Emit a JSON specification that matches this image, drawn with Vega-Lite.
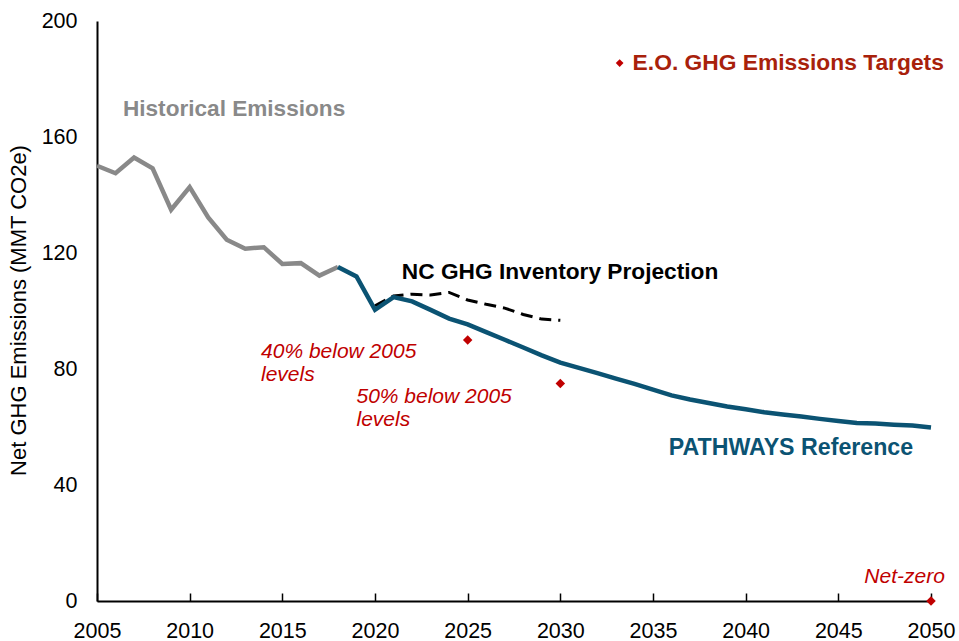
{
  "$schema": "https://vega.github.io/schema/vega-lite/v6.json",
  "autosize": "none",
  "width": 834,
  "height": 580,
  "padding": {"left": 97, "top": 21, "right": 28, "bottom": 40},
  "background": "white",
  "config": {
    "view": {"stroke": null},
    "font": "Liberation Sans",
    "axis": {"grid": false, "domainColor": "black", "domainWidth": 2, "labelFont": "Liberation Sans", "labelFontSize": 21.5, "labelColor": "#000", "titleFont": "Liberation Sans"}
  },
  "datasets": {
    "series": [
      {"year": 2005, "value": 150.1, "series": "Historical"},
      {"year": 2006, "value": 147.5, "series": "Historical"},
      {"year": 2007, "value": 152.9, "series": "Historical"},
      {"year": 2008, "value": 149.2, "series": "Historical"},
      {"year": 2009, "value": 134.9, "series": "Historical"},
      {"year": 2010, "value": 142.7, "series": "Historical"},
      {"year": 2011, "value": 132.3, "series": "Historical"},
      {"year": 2012, "value": 124.6, "series": "Historical"},
      {"year": 2013, "value": 121.5, "series": "Historical"},
      {"year": 2014, "value": 122.0, "series": "Historical"},
      {"year": 2015, "value": 116.2, "series": "Historical"},
      {"year": 2016, "value": 116.5, "series": "Historical"},
      {"year": 2017, "value": 112.2, "series": "Historical"},
      {"year": 2018, "value": 115.2, "series": "Historical"},
      {"year": 2018, "value": 115.2, "series": "PATHWAYS"},
      {"year": 2019, "value": 111.9, "series": "PATHWAYS"},
      {"year": 2020, "value": 100.4, "series": "PATHWAYS"},
      {"year": 2021, "value": 104.8, "series": "PATHWAYS"},
      {"year": 2022, "value": 103.3, "series": "PATHWAYS"},
      {"year": 2023, "value": 100.4, "series": "PATHWAYS"},
      {"year": 2024, "value": 97.4, "series": "PATHWAYS"},
      {"year": 2025, "value": 95.4, "series": "PATHWAYS"},
      {"year": 2026, "value": 92.7, "series": "PATHWAYS"},
      {"year": 2027, "value": 90.1, "series": "PATHWAYS"},
      {"year": 2028, "value": 87.4, "series": "PATHWAYS"},
      {"year": 2029, "value": 84.7, "series": "PATHWAYS"},
      {"year": 2030, "value": 82.2, "series": "PATHWAYS"},
      {"year": 2031, "value": 80.4, "series": "PATHWAYS"},
      {"year": 2032, "value": 78.6, "series": "PATHWAYS"},
      {"year": 2033, "value": 76.7, "series": "PATHWAYS"},
      {"year": 2034, "value": 74.9, "series": "PATHWAYS"},
      {"year": 2035, "value": 72.9, "series": "PATHWAYS"},
      {"year": 2036, "value": 70.9, "series": "PATHWAYS"},
      {"year": 2037, "value": 69.5, "series": "PATHWAYS"},
      {"year": 2038, "value": 68.3, "series": "PATHWAYS"},
      {"year": 2039, "value": 67.1, "series": "PATHWAYS"},
      {"year": 2040, "value": 66.1, "series": "PATHWAYS"},
      {"year": 2041, "value": 65.1, "series": "PATHWAYS"},
      {"year": 2042, "value": 64.3, "series": "PATHWAYS"},
      {"year": 2043, "value": 63.6, "series": "PATHWAYS"},
      {"year": 2044, "value": 62.8, "series": "PATHWAYS"},
      {"year": 2045, "value": 62.1, "series": "PATHWAYS"},
      {"year": 2046, "value": 61.4, "series": "PATHWAYS"},
      {"year": 2047, "value": 61.2, "series": "PATHWAYS"},
      {"year": 2048, "value": 60.8, "series": "PATHWAYS"},
      {"year": 2049, "value": 60.5, "series": "PATHWAYS"},
      {"year": 2050, "value": 59.8, "series": "PATHWAYS"},
      {"year": 2020, "value": 101.8, "series": "NC"},
      {"year": 2021, "value": 105.2, "series": "NC"},
      {"year": 2022, "value": 105.8, "series": "NC"},
      {"year": 2023, "value": 105.5, "series": "NC"},
      {"year": 2024, "value": 106.4, "series": "NC"},
      {"year": 2025, "value": 103.8, "series": "NC"},
      {"year": 2026, "value": 102.3, "series": "NC"},
      {"year": 2027, "value": 101.0, "series": "NC"},
      {"year": 2028, "value": 98.8, "series": "NC"},
      {"year": 2029, "value": 97.2, "series": "NC"},
      {"year": 2030, "value": 96.8, "series": "NC"}
    ],
    "targets": [
      {"year": 2025, "value": 90},
      {"year": 2030, "value": 75},
      {"year": 2050, "value": 0}
    ],
    "labels": [
      {"year": 2006.4, "value": 169.7, "text": "Historical Emissions", "kind": "hist"},
      {"year": 2021.45, "value": 113.6, "text": "NC GHG Inventory Projection", "kind": "nc"},
      {"year": 2035.85, "value": 52.7, "text": "PATHWAYS Reference", "kind": "path"},
      {"year": 2033.9, "value": 185.5, "text": "E.O. GHG Emissions Targets", "kind": "legend"},
      {"year": 2013.85, "value": 85.7, "text": "40% below 2005\nlevels", "kind": "target"},
      {"year": 2019.0, "value": 70.2, "text": "50% below 2005\nlevels", "kind": "target"},
      {"year": 2050.75, "value": 8.3, "text": "Net-zero", "kind": "netzero"}
    ],
    "legend": [
      {"year": 2033.2, "value": 185.5}
    ]
  },
  "encoding": {
    "x": {"field": "year", "type": "quantitative", "scale": {"domain": [2005, 2050], "nice": false, "zero": false},
      "axis": {"values": [2005, 2010, 2015, 2020, 2025, 2030, 2035, 2040, 2045, 2050], "format": "d", "title": null, "tickSize": -8, "tickColor": "black", "tickWidth": 1.5, "labelPadding": 27, "labelFlush": false, "labelOverlap": false, "domainWidth": 2}},
    "y": {"field": "value", "type": "quantitative", "scale": {"domain": [0, 200], "nice": false},
      "axis": {"values": [0, 40, 80, 120, 160, 200], "ticks": false, "labelPadding": 20, "title": "Net GHG Emissions (MMT CO2e)", "titleFontSize": 22, "titleFontWeight": "normal", "titleColor": "#000", "titleX": -79, "titleY": 289, "titleAngle": -90, "titleBaseline": "middle", "titleAlign": "center"}}
  },
  "layer": [
    {"data": {"name": "series"}, "transform": [{"filter": "datum.series === 'Historical'"}],
      "mark": {"type": "line", "color": "#898989", "strokeWidth": 4.5, "strokeJoin": "miter", "clip": false}},
    {"data": {"name": "series"}, "transform": [{"filter": "datum.series === 'NC'"}],
      "mark": {"type": "line", "color": "#000000", "strokeWidth": 3, "strokeDash": [12, 7], "clip": false}},
    {"data": {"name": "series"}, "transform": [{"filter": "datum.series === 'PATHWAYS'"}],
      "mark": {"type": "line", "color": "#0B5373", "strokeWidth": 4.5, "strokeJoin": "miter", "clip": false}},
    {"data": {"name": "targets"},
      "mark": {"type": "point", "shape": "diamond", "filled": true, "color": "#C00000", "size": 90, "opacity": 1, "clip": false}},
    {"data": {"name": "legend"},
      "mark": {"type": "point", "shape": "diamond", "filled": true, "color": "#C00000", "size": 60, "opacity": 1, "clip": false}},
    {"data": {"name": "labels"}, "transform": [{"filter": "datum.kind === 'hist'"}],
      "mark": {"type": "text", "align": "left", "baseline": "middle", "fontSize": 22.6, "fontWeight": "bold", "color": "#898989", "clip": false},
      "encoding": {"text": {"field": "text"}}},
    {"data": {"name": "labels"}, "transform": [{"filter": "datum.kind === 'nc'"}],
      "mark": {"type": "text", "align": "left", "baseline": "middle", "fontSize": 22.7, "fontWeight": "bold", "color": "#000000", "clip": false},
      "encoding": {"text": {"field": "text"}}},
    {"data": {"name": "labels"}, "transform": [{"filter": "datum.kind === 'path'"}],
      "mark": {"type": "text", "align": "left", "baseline": "middle", "fontSize": 23.2, "fontWeight": "bold", "color": "#0B5373", "clip": false},
      "encoding": {"text": {"field": "text"}}},
    {"data": {"name": "labels"}, "transform": [{"filter": "datum.kind === 'legend'"}],
      "mark": {"type": "text", "align": "left", "baseline": "middle", "fontSize": 22.8, "fontWeight": "bold", "color": "#A8210B", "clip": false},
      "encoding": {"text": {"field": "text"}}},
    {"data": {"name": "labels"}, "transform": [{"filter": "datum.kind === 'target'"}],
      "mark": {"type": "text", "align": "left", "baseline": "middle", "fontSize": 21, "fontStyle": "italic", "color": "#C00000", "lineBreak": "\n", "lineHeight": 23, "clip": false},
      "encoding": {"text": {"field": "text"}}},
    {"data": {"name": "labels"}, "transform": [{"filter": "datum.kind === 'netzero'"}],
      "mark": {"type": "text", "align": "right", "baseline": "middle", "fontSize": 21, "fontStyle": "italic", "color": "#C00000", "clip": false},
      "encoding": {"text": {"field": "text"}}}
  ]
}
